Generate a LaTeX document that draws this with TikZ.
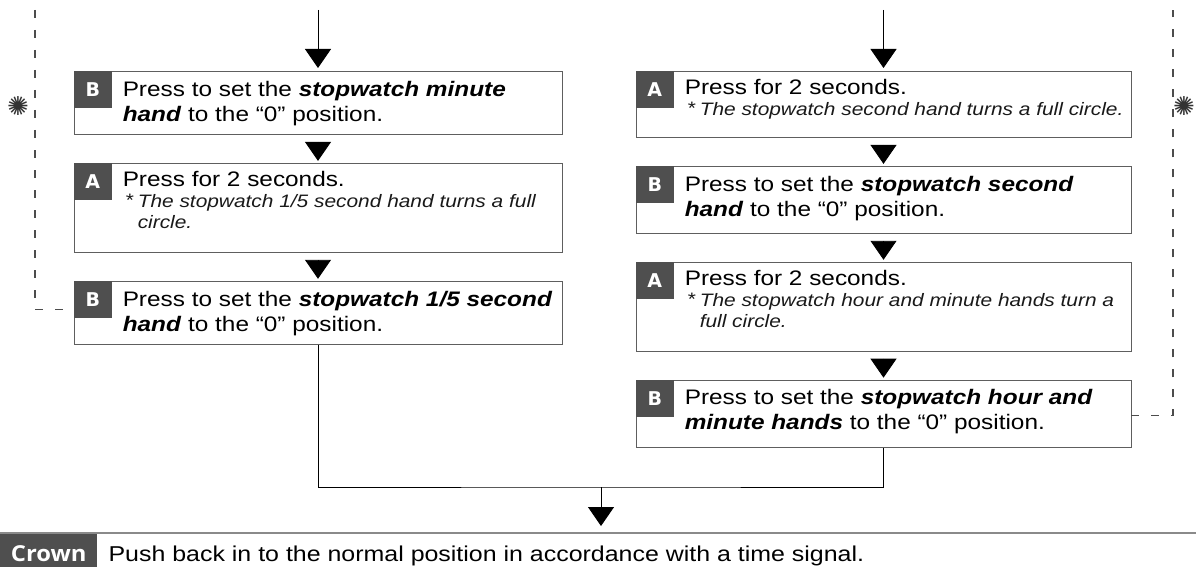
\documentclass[tikz,border=0pt]{standalone}
\usepackage{fontspec}
\setmainfont[FakeStretch=1.16]{Liberation Sans}
\newfontfamily\crownfont[FakeStretch=1.08]{Open Sans}
\newfontfamily\symfont{DejaVu Sans}
\usepackage{xcolor}
\usetikzlibrary{arrows.meta,
positioning,
calc}

\definecolor{keygray}{HTML}{4F4F4F}
\definecolor{framegray}{HTML}{5E5E5E}
\definecolor{rulegray}{HTML}{8A8A8A}
\newcommand{\swtext}[1]{\textbf{\textit{#1}}}
\newcommand{\noteast}{\makebox[12pt][l]{\upshape\raisebox{1pt}{*}}}

\begin{document}
\begin{tikzpicture}[
				x=1pt, y=-1pt,
				stepbox/.style={
					draw=framegray,
					line width=0.9pt,
					inner sep=0pt,
					minimum width=#1
				},
				keybox/.style={
					fill=keygray,
					minimum width=38pt,
					minimum height=37pt,
					inner sep=0pt,
					anchor=north west,
					text=white,
					font=\symfont\bfseries\fontsize{19}{19}\selectfont
				},
				maintext/.style={
					anchor=north west,
					inner sep=0pt,
					align=left,
					font=\fontsize{21}{25}\selectfont
				},
				notetext/.style={
					anchor=north west,
					inner sep=0pt,
					align=left,
					text=black!90,
					font=\fontsize{18}{21}\selectfont\itshape
				},
				flowline/.style={line width=0.9pt},
				flowtip/.style={flowline, -{Triangle[width=26pt,length=19pt]}},
				dashline/.style={draw=black!70, line width=1.1pt, dash pattern=on 8pt off 12pt},
				repmark/.style={inner sep=0pt, text=black!80, font=\symfont\fontsize{26}{26}\selectfont}
				]
				\useasboundingbox (0,0) rectangle (1196,567);
				
				% left column
				\node[stepbox=488pt, minimum height=63pt, anchor=north] (lb1) at (318,71) {};
				\node[stepbox=488pt, minimum height=89pt, below=28pt of lb1] (la1) {};
				\node[stepbox=488pt, minimum height=63pt, below=28pt of la1] (lb2) {};
				
				\node[keybox] (lb1k) at (lb1.north west) {B};
				\node[keybox] (la1k) at (la1.north west) {A};
				\node[keybox] (lb2k) at (lb2.north west) {B};
				
				\node[maintext] (lb1t) at ([shift={(49,7.5)}]lb1.north west) {\strut Press to set the \swtext{stopwatch minute}\\\swtext{hand} to the “0” position.};
				\node[maintext] (la1t) at ([shift={(49,5.5)}]la1.north west) {\strut Press for 2 seconds.};
				\node[notetext] (la1n) at ([shift={(52,29.3)}]la1.north west) {\strut\noteast The stopwatch 1/5 second hand turns a full\\\hspace*{12pt}circle.};
				\node[maintext] (lb2t) at ([shift={(49,7.5)}]lb2.north west) {\strut Press to set the \swtext{stopwatch 1/5 second}\\\swtext{hand} to the “0” position.};
				
				% right column
				\node[stepbox=495pt, minimum height=66pt, anchor=north] (ra1) at (883.5,71) {};
				\node[stepbox=495pt, minimum height=67pt, below=28pt of ra1] (rb1) {};
				\node[stepbox=495pt, minimum height=89pt, below=28pt of rb1] (ra2) {};
				\node[stepbox=495pt, minimum height=67pt, below=28pt of ra2] (rb2) {};
				
				\node[keybox] (ra1k) at (ra1.north west) {A};
				\node[keybox] (rb1k) at (rb1.north west) {B};
				\node[keybox] (ra2k) at (ra2.north west) {A};
				\node[keybox] (rb2k) at (rb2.north west) {B};
				
				\node[maintext] (ra1t) at ([shift={(49,5.5)}]ra1.north west) {\strut Press for 2 seconds.};
				\node[notetext] (ra1n) at ([shift={(52,29.3)}]ra1.north west) {\strut\noteast The stopwatch second hand turns a full circle.};
				\node[maintext] (rb1t) at ([shift={(49,7.5)}]rb1.north west) {\strut Press to set the \swtext{stopwatch second}\\\swtext{hand} to the “0” position.};
				\node[maintext] (ra2t) at ([shift={(49,5.5)}]ra2.north west) {\strut Press for 2 seconds.};
				\node[notetext] (ra2n) at ([shift={(52,29.3)}]ra2.north west) {\strut\noteast The stopwatch hour and minute hands turn a\\\hspace*{12pt}full circle.};
				\node[maintext] (rb2t) at ([shift={(49,7.5)}]rb2.north west) {\strut Press to set the \swtext{stopwatch hour and}\\\swtext{minute hands} to the “0” position.};
				
				% crown row
				\node[fill=keygray, minimum width=97pt, minimum height=34pt, inner sep=0pt, anchor=north west,
					text height=22pt, text depth=0pt, text=white,
					font=\crownfont\bfseries\fontsize{22}{22}\selectfont] (crownkey) at (0,533) {Crown};
				\node[anchor=base west, inner sep=0pt, font=\fontsize{21.5}{25}\selectfont] (crowntext) at ([shift={(11,0)}]crownkey.base east) {Push back in to the normal position in accordance with a time signal.};
				\coordinate (ruleend) at (1196,533);
				\draw[rulegray, line width=1.2pt] (crownkey.north west) -- (ruleend);
				
				% flow
				\coordinate (lin) at (318,10);
				\coordinate (rin) at (883.5,10);
				\coordinate (merge) at (601,487);
				\draw[flowtip, shorten >=3pt] (lin) -- (lb1);
				\draw[flowtip, shorten >=3pt] (rin) -- (ra1);
				\draw[flowtip, shorten <=7pt, shorten >=2pt] (lb1) -- (la1);
				\draw[flowtip, shorten <=7pt, shorten >=2pt] (la1) -- (lb2);
				\draw[flowtip, shorten <=7pt, shorten >=2pt] (ra1) -- (rb1);
				\draw[flowtip, shorten <=7pt, shorten >=2pt] (rb1) -- (ra2);
				\draw[flowtip, shorten <=7pt, shorten >=2pt] (ra2) -- (rb2);
				\draw[flowline] (lb2.south) |- (merge) -| (rb2.south);
				\draw[flowtip, shorten >=7pt] (merge) -- (merge |- ruleend);
				
				% repeat loops
				\coordinate (ltop) at (35,10);
				\coordinate (rtop) at (1173,10);
				\draw[dashline] (ltop) |- ([shift={(0,29)}]lb2.north west);
				\draw[dashline] ([shift={(0,36)}]rb2.north east) -| (rtop);
				\node[repmark] (lmark) at (18,106) {✺};
				\node[repmark] (rmark) at (1184,106) {✺};
			\end{tikzpicture}
\end{document}
